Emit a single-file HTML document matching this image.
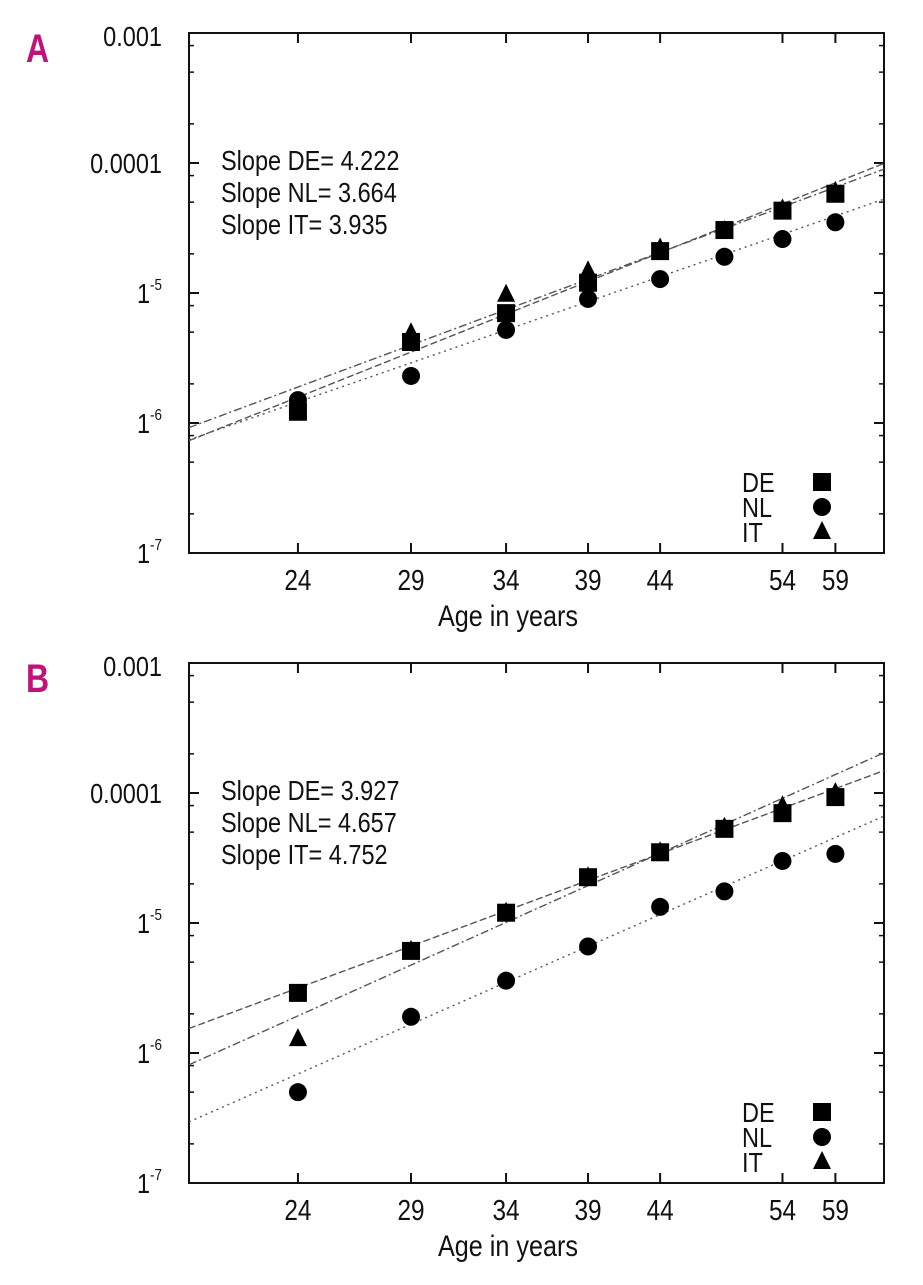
<!DOCTYPE html>
<html><head><meta charset="utf-8"><style>
body{margin:0;background:#fff;}
svg text{font-family:"Liberation Sans Narrow","Liberation Sans",sans-serif;fill:#111;}
</style></head><body>
<svg id="fig" width="923" height="1280" viewBox="0 0 923 1280" xmlns="http://www.w3.org/2000/svg"></svg>
<script>
const ages=[24,29,34,39,44,49,54,59];
const tickAges=[24,29,34,39,44,54,59];
const yTickLabels=[["0.001",-3],["0.0001",-4],["1","-5"],["1","-6"],["1","-7"]];
const aDE=[1.22e-6,4.2e-6,7.0e-6,1.2e-5,2.1e-5,3.05e-5,4.3e-5,5.8e-5];
const aNL=[1.5e-6,2.3e-6,5.2e-6,9.0e-6,1.28e-5,1.9e-5,2.6e-5,3.5e-5];
const aIT=[null,4.9e-6,9.7e-6,1.47e-5,2.2e-5,3.0e-5,4.4e-5,6.0e-5];
const bDE=[2.9e-6,6.1e-6,1.2e-5,2.25e-5,3.5e-5,5.3e-5,7.0e-5,9.3e-5];
const bNL=[5.0e-7,1.9e-6,3.6e-6,6.6e-6,1.33e-5,1.75e-5,3.0e-5,3.4e-5];
const bIT=[1.28e-6,6.1e-6,1.2e-5,2.25e-5,3.5e-5,5.4e-5,7.9e-5,1.0e-4];
const aSlopes=[4.222,3.664,3.935];
const aFit24=[1.58e-6,1.45e-6,1.89e-6];
const bSlopes=[3.927,4.657,4.752];
const bFit24=[3.16e-6,6.9e-7,1.93e-6];
const series=["DE","NL","IT"];

const NS="http://www.w3.org/2000/svg";
const svg=document.getElementById('fig');
function el(tag,attrs,parent){const e=document.createElementNS(NS,tag);for(const k in attrs)e.setAttribute(k,attrs[k]);(parent||svg).appendChild(e);return e;}
const SX=0.84;
function txt(parent,x,y,size,anchor,extra){
  return el('text',Object.assign({x:0,y:0,'font-size':size,'text-anchor':anchor||'start',transform:`translate(${x},${y}) scale(${SX},1)`},extra||{}),parent);
}

function panel(id,letter,top,de,nl,it,slopes,fit24){
  const L=189,R=884,T=top,B=top+520;
  const g=el('g',{});
  
  
  const x=a=>L+(R-L)*Math.log(a/20)/Math.log(64/20);
  const y=v=>B-(B-T)*(Math.log10(v)+7)/4;
  const lt=el('text',{x:0,y:0,'font-size':40,'font-weight':'bold',transform:`translate(26,${top+29}) scale(0.8,1)`,style:'fill:#c2117a;'},g);
  lt.textContent=letter;
  
  
  const cp=el('clipPath',{id:'clip'+id},g);el('rect',{x:L,y:T,width:R-L,height:B-T},cp);
  const fr=el('rect',{x:L,y:T,width:R-L,height:B-T,fill:'none',stroke:'#111','stroke-width':2},g);
  
  
  for(let d=-7;d<=-3;d++){
    const yy=y(Math.pow(10,d));
    el('line',{x1:L,x2:L+10,y1:yy,y2:yy,stroke:'#111','stroke-width':2},g);
    el('line',{x1:R,x2:R-10,y1:yy,y2:yy,stroke:'#111','stroke-width':2},g);
    if(d<-3)[2,5,8].forEach(m=>{const ym=y(m*Math.pow(10,d));
      el('line',{x1:L,x2:L+5,y1:ym,y2:ym,stroke:'#111','stroke-width':1.5},g);
      el('line',{x1:R,x2:R-5,y1:ym,y2:ym,stroke:'#111','stroke-width':1.5},g);});
  }
  yTickLabels.forEach((lb,i)=>{
    const yy=y(Math.pow(10,-3-i));
    const t=txt(g,162,yy+(i==0?13:10),28,'end');
    if(typeof lb[1]==='number'){t.textContent=lb[0];}
    else{t.textContent=lb[0];const s=el('tspan',{'font-size':16,dy:-13},t);s.textContent=lb[1];}
    
    
  });
  tickAges.forEach(a=>{
    const xx=x(a);
    el('line',{x1:xx,x2:xx,y1:B,y2:B-10,stroke:'#111','stroke-width':2},g);
    el('line',{x1:xx,x2:xx,y1:T,y2:T+10,stroke:'#111','stroke-width':2},g);
    const t=txt(g,xx,B+37,29,'middle');
    t.textContent=a;
    
    
  });
  const xt=txt(g,508,B+73,30,'middle');
  xt.textContent='Age in years';
  
  
  const dashes=['7,3','2,4','8,3,2,3'];
  const lg=el('g',{'clip-path':'url(#clip'+id+')'},g);
  slopes.forEach((s,i)=>{
    const f=a=>fit24[i]*Math.pow(a/24,s);
    const ln=el('line',{x1:x(20),y1:y(f(20)),x2:x(64),y2:y(f(64)),stroke:'#555','stroke-width':1.4,'stroke-dasharray':dashes[i]},lg);
    
    
  });
  slopes.forEach((s,i)=>{
    const t=txt(g,221,T+137+i*32,28);
    t.textContent='Slope '+series[i]+'= '+s.toFixed(3);
    
    
  });
  function marker(kind,cx,cy,parent){
    let m;
    if(kind==='DE')m=el('rect',{x:cx-9,y:cy-9,width:18,height:18,fill:'#000'},parent);
    else if(kind==='NL')m=el('circle',{cx:cx,cy:cy,r:9,fill:'#000'},parent);
    else m=el('polygon',{points:`${cx},${cy-11} ${cx+9},${cy+7} ${cx-9},${cy+7}`,fill:'#000'},parent);
    return m;
  }
  [[it,'IT'],[de,'DE'],[nl,'NL']].forEach(([arr,k])=>{
    arr.forEach((v,i)=>{if(v==null)return;
      const m=marker(k,x(ages[i]),y(v),g);
      
      
    });
  });
  series.forEach((k,i)=>{
    const yy=B-71+i*25;
    const t=txt(g,742,yy+10,28);
    t.textContent=k;
    
    
    const m=marker(k,822,yy,g);
    
    
  });
}
panel('a','A',33,aDE,aNL,aIT,aSlopes,aFit24);
panel('b','B',663,bDE,bNL,bIT,bSlopes,bFit24);
</script>
</body></html>
